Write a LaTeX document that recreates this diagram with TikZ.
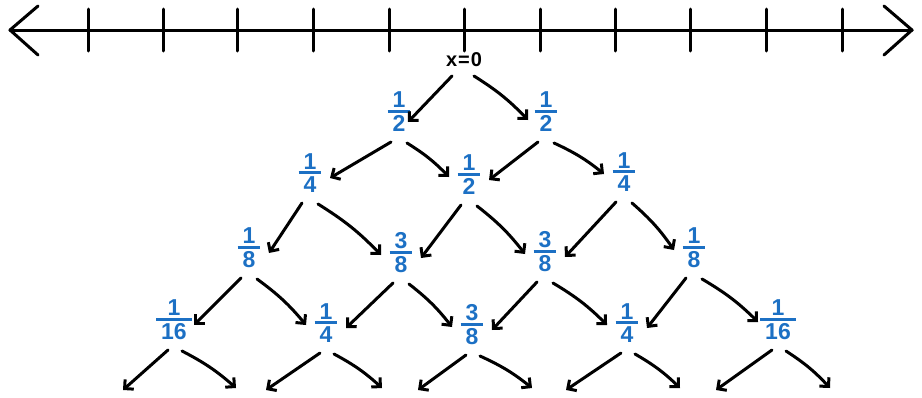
\documentclass[tikz,border=0pt]{standalone}
\usepackage{fontspec}
\setmainfont{Liberation Sans}
\usetikzlibrary{arrows.meta,calc}
\definecolor{fracblue}{RGB}{28,112,196}
\newcommand\fr[2]{$\vcenter{\offinterlineskip\halign{\hfil##\hfil\cr
  \kern5pt #1\kern5pt\cr\noalign{\kern2pt}
  \leaders\hrule height 2.8pt\hfill\cr\noalign{\kern3pt}
  \kern5pt #2\kern5pt\cr}}$}
\begin{document}
\begin{tikzpicture}[x=1pt,y=-1pt,
  ink/.style={line width=3pt, line cap=round, line join=round},
  arr/.style={ink, -{Straight Barb[length=6.5pt,width=13pt]}},
  frac/.style={text=fracblue, font=\fontsize{23}{23}\selectfont\bfseries, inner sep=0pt},
  lbl/.style={font=\fontsize{20}{20}\selectfont\bfseries, inner sep=0pt}]
\useasboundingbox (0,0) rectangle (922,397);
% number line
\draw[ink] (10,30) -- (912,30);
\draw[ink] (38,6) -- (10,30) -- (38,55);
\draw[ink] (884,6) -- (912,30) -- (884,55);
\foreach \x in {88,163,237,313,389,464,540,615,690,766,842}
  \draw[ink] (\x,9) -- (\x,51);
% nodes
\node[lbl] (x0) at (464,60) {x\kern1pt=\kern1pt0};
\node[frac] (a1) at (399,112) {\fr{1}{2}};
\node[frac] (a2) at (546,112) {\fr{1}{2}};
\node[frac] (b1) at (310,173) {\fr{1}{4}};
\node[frac] (b2) at (469,175) {\fr{1}{2}};
\node[frac] (b3) at (624,172) {\fr{1}{4}};
\node[frac] (c1) at (249,248) {\fr{1}{8}};
\node[frac] (c2) at (401,253) {\fr{3}{8}};
\node[frac] (c3) at (545,252) {\fr{3}{8}};
\node[frac] (c4) at (694,248) {\fr{1}{8}};
\node[frac] (d1) at (174,320) {\fr{1}{16}};
\node[frac] (d2) at (326,323) {\fr{1}{4}};
\node[frac] (d3) at (472,325) {\fr{3}{8}};
\node[frac] (d4) at (627,323) {\fr{1}{4}};
\node[frac] (d5) at (778,320) {\fr{1}{16}};
\foreach \i/\l/\r in {1/123/236, 2/266/382, 3/418/532, 4/566/680, 5/716/830}{
  \coordinate (eL\i) at (\l,390);
  \coordinate (eR\i) at (\r,388);
}
% arrows
\draw[arr] ($(x0)+(-12,16)$) -- ($(a1)+(9,10)$);
\draw[arr] ($(x0)+(10,16)$) to[bend left=7] ($(a2)+(-18,8)$);
\foreach \p/\c in {a1/b1, a2/b2, b1/c1, b2/c2, b3/c3, c1/d1, c2/d2, c3/d3, c4/d4}
  \draw[arr] ($(\p)+(-8,30)$) -- ($(\c)+(20,5)$);
\foreach \p/\c in {a1/b2, a2/b3, b1/c2, b2/c3, b3/c4, c1/d2, c2/d3, c3/d4, c4/d5}
  \draw[arr] ($(\p)+(8,31)$) to[bend left=7] ($(\c)+(-20,2)$);
\foreach \i in {1,...,5}{
  \draw[arr] ($(d\i)+(-6,30)$) -- (eL\i);
  \draw[arr] ($(d\i)+(8,31)$) to[bend left=7] (eR\i);
}
\end{tikzpicture}
\end{document}
